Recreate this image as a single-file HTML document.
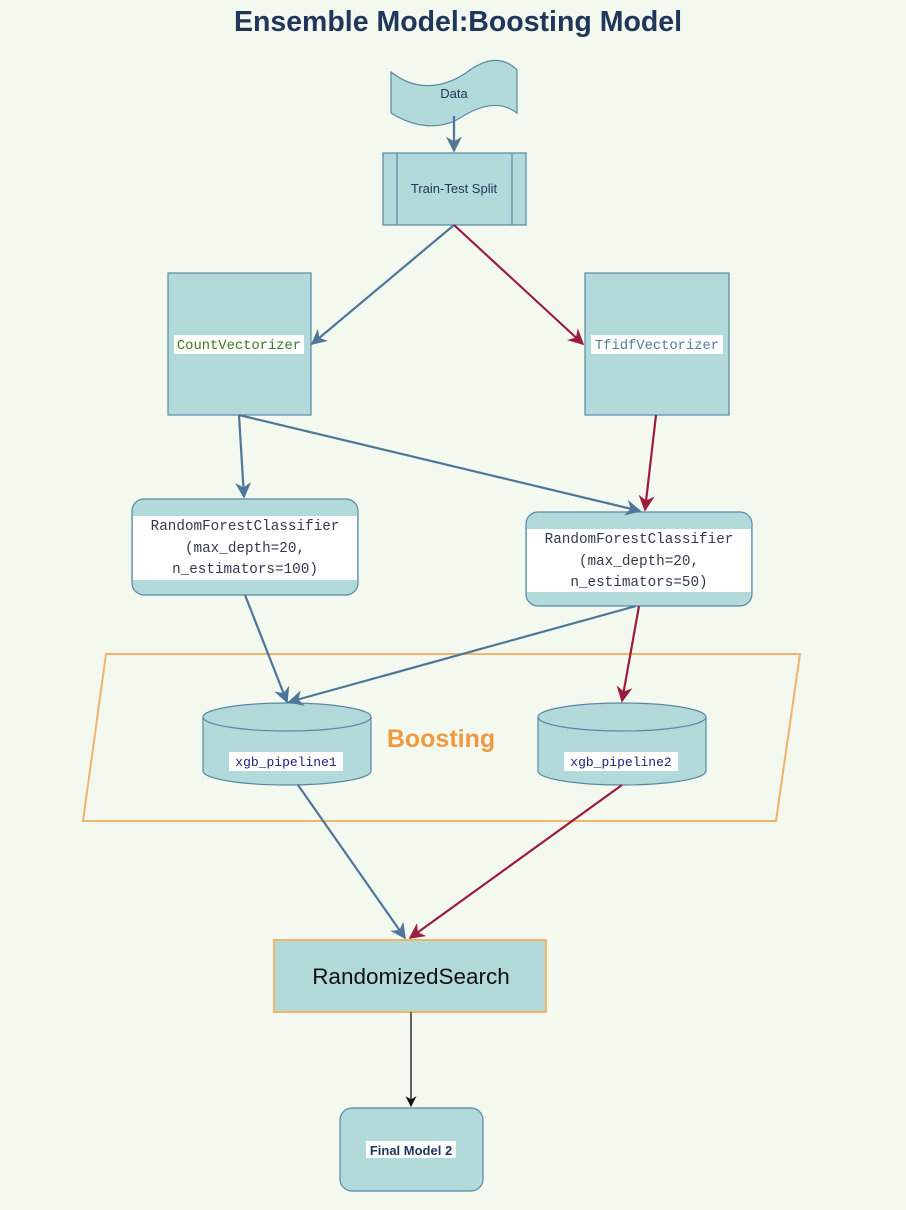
<!DOCTYPE html>
<html><head><meta charset="utf-8"><style>
body{margin:0;background:#f3f9ef;}
svg{display:block}
.m{font-family:"Liberation Mono",monospace;font-size:14.3px}
.s{font-family:"Liberation Sans",sans-serif}
</style></head><body>
<svg width="906" height="1210" viewBox="0 0 906 1210" xmlns="http://www.w3.org/2000/svg">
<defs>
<marker id="b" markerWidth="16" markerHeight="16" refX="9" refY="5" orient="auto" markerUnits="userSpaceOnUse" viewBox="0 0 10 10"><path d="M0,0 L10,5 L0,10 L3,5 z" fill="#4f7699"/></marker>
<marker id="r" markerWidth="16" markerHeight="16" refX="9" refY="5" orient="auto" markerUnits="userSpaceOnUse" viewBox="0 0 10 10"><path d="M0,0 L10,5 L0,10 L3,5 z" fill="#9b1c3e"/></marker>
<marker id="k" markerWidth="11" markerHeight="11" refX="9" refY="5" orient="auto" markerUnits="userSpaceOnUse" viewBox="0 0 10 10"><path d="M0,0 L10,5 L0,10 L3,5 z" fill="#111"/></marker>
</defs>
<rect width="906" height="1210" fill="#f3f9ef"/>
<text x="458" y="31" text-anchor="middle" class="s" font-size="28.5" font-weight="bold" fill="#20365a">Ensemble Model:Boosting Model</text>

<polygon points="106,654 800,654 776,821 83,821" fill="none" stroke="#f2b36b" stroke-width="2"/>
<text x="441" y="747" text-anchor="middle" class="s" font-size="25" font-weight="bold" fill="#f0993f">Boosting</text>

<path d="M391,72 C420,95 450,85 470,70 C490,56 505,58 517,70 L517,113 C500,100 480,105 460,118 C440,130 415,128 391,113 Z" fill="#b2dadb" stroke="#5a88a3" stroke-width="1.2"/>
<text x="454" y="98" text-anchor="middle" class="s" font-size="13" fill="#20365a">Data</text>

<rect x="383" y="153" width="143" height="72" fill="#b2dadb" stroke="#5a88a3" stroke-width="1.2"/>
<line x1="397" y1="153" x2="397" y2="225" stroke="#5a88a3" stroke-width="1.2"/>
<line x1="512" y1="153" x2="512" y2="225" stroke="#5a88a3" stroke-width="1.2"/>
<text x="454" y="193" text-anchor="middle" class="s" font-size="13" fill="#20365a">Train-Test Split</text>

<rect x="168" y="273" width="143" height="142" fill="#b2dadb" stroke="#5a88a3" stroke-width="1.2"/>
<rect x="174" y="335" width="130" height="19" fill="#fff"/>
<text x="239" y="349" text-anchor="middle" class="m" fill="#3a7a1e" style="font-size:13.8px">CountVectorizer</text>
<rect x="585" y="273" width="144" height="142" fill="#b2dadb" stroke="#5a88a3" stroke-width="1.2"/>
<rect x="591" y="335" width="132" height="19" fill="#fff"/>
<text x="657" y="349" text-anchor="middle" class="m" fill="#4f7f99" style="font-size:13.8px">TfidfVectorizer</text>

<rect x="132" y="499" width="226" height="96" rx="12" fill="#b2dadb" stroke="#5a88a3" stroke-width="1.2"/>
<rect x="133" y="516" width="224" height="64" fill="#fff"/>
<text x="245" y="530" text-anchor="middle" class="m" fill="#333a4a">RandomForestClassifier</text>
<text x="245" y="552" text-anchor="middle" class="m" fill="#333a4a">(max_depth=20,</text>
<text x="245" y="573" text-anchor="middle" class="m" fill="#333a4a">n_estimators=100)</text>
<rect x="526" y="512" width="226" height="94" rx="12" fill="#b2dadb" stroke="#5a88a3" stroke-width="1.2"/>
<rect x="527" y="529" width="224" height="63" fill="#fff"/>
<text x="639" y="543" text-anchor="middle" class="m" fill="#333a4a">RandomForestClassifier</text>
<text x="639" y="565" text-anchor="middle" class="m" fill="#333a4a">(max_depth=20,</text>
<text x="639" y="586" text-anchor="middle" class="m" fill="#333a4a">n_estimators=50)</text>

<path d="M203,717 L203,771 A84,14 0 0 0 371,771 L371,717" fill="#b2dadb" stroke="#5a88a3" stroke-width="1.2"/>
<ellipse cx="287" cy="717" rx="84" ry="14" fill="#b2dadb" stroke="#5a88a3" stroke-width="1.2"/>
<rect x="229" y="752" width="114" height="19" fill="#fff"/>
<text x="286" y="766" text-anchor="middle" class="m" fill="#1a237e" style="font-size:13px">xgb_pipeline1</text>
<path d="M538,717 L538,771 A84,14 0 0 0 706,771 L706,717" fill="#b2dadb" stroke="#5a88a3" stroke-width="1.2"/>
<ellipse cx="622" cy="717" rx="84" ry="14" fill="#b2dadb" stroke="#5a88a3" stroke-width="1.2"/>
<rect x="564" y="752" width="114" height="19" fill="#fff"/>
<text x="621" y="766" text-anchor="middle" class="m" fill="#1a237e" style="font-size:13px">xgb_pipeline2</text>

<rect x="274" y="940" width="272" height="72" fill="#b2dadb" stroke="#f2b36b" stroke-width="2"/>
<text x="411" y="984" text-anchor="middle" class="s" font-size="22.5" fill="#111">RandomizedSearch</text>

<rect x="340" y="1108" width="143" height="83" rx="12" fill="#b2dadb" stroke="#5a88a3" stroke-width="1.2"/>
<rect x="366" y="1141" width="90" height="17" fill="#fff"/>
<text x="411" y="1155" text-anchor="middle" class="s" font-size="13" font-weight="bold" fill="#20365a">Final Model 2</text>

<g fill="none" stroke-width="2.2">
<line x1="454" y1="116" x2="454" y2="151" stroke="#4f7699" marker-end="url(#b)"/>
<line x1="454" y1="225" x2="312" y2="344" stroke="#4f7699" marker-end="url(#b)"/>
<line x1="454" y1="225" x2="583" y2="344" stroke="#9b1c3e" marker-end="url(#r)"/>
<line x1="239" y1="415" x2="244" y2="497" stroke="#4f7699" marker-end="url(#b)"/>
<line x1="239" y1="415" x2="640" y2="511" stroke="#4f7699" marker-end="url(#b)"/>
<line x1="656" y1="415" x2="645" y2="510" stroke="#9b1c3e" marker-end="url(#r)"/>
<line x1="245" y1="595" x2="287" y2="702" stroke="#4f7699" marker-end="url(#b)"/>
<line x1="636" y1="606" x2="289" y2="702" stroke="#4f7699" marker-end="url(#b)"/>
<line x1="639" y1="606" x2="622" y2="701" stroke="#9b1c3e" marker-end="url(#r)"/>
<line x1="298" y1="785" x2="405" y2="938" stroke="#4f7699" marker-end="url(#b)"/>
<line x1="622" y1="785" x2="410" y2="938" stroke="#9b1c3e" marker-end="url(#r)"/>
<line x1="411" y1="1012" x2="411" y2="1106" stroke="#111" stroke-width="1.3" marker-end="url(#k)"/>
</g>
</svg>
</body></html>
